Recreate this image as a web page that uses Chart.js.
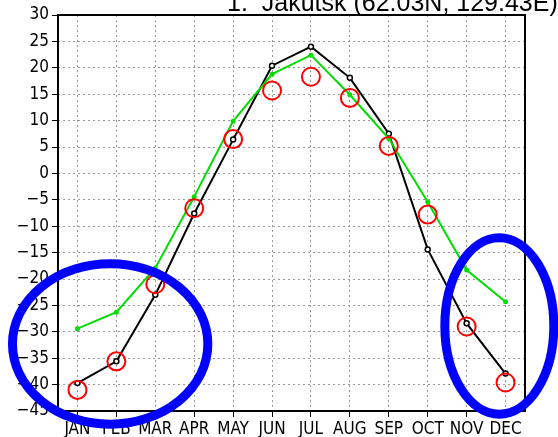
<!DOCTYPE html>
<html>
<head>
<meta charset="utf-8">
<script src="https://cdn.jsdelivr.net/npm/chart.js@4/dist/chart.umd.min.js"></script>
<style>
  html, body { margin: 0; padding: 0; background: #fff; }
  canvas { display: block; }
</style>
</head>
<body>
<canvas id="c" width="558" height="437"></canvas>
<script>
// Monthly mean temperature, Jakutsk
const titleText = '1.  Jakutsk (62.03N, 129.43E)';
const months = ['JAN', 'FEB', 'MAR', 'APR', 'MAY', 'JUN', 'JUL', 'AUG', 'SEP', 'OCT', 'NOV', 'DEC'];
const yTicks = [-45, -40, -35, -30, -25, -20, -15, -10, -5, 0, 5, 10, 15, 20, 25, 30];

const tempBlack = [-39.7, -35.6, -23.0, -7.6, 6.4, 20.4, 24.0, 18.1, 7.5, -14.4, -28.4, -37.9];
const tempGreen = [-29.4, -26.3, -17.9, -4.4, 9.9, 18.8, 22.4, 14.9, 6.6, -5.4, -18.3, -24.3];
const tempRed   = [-41.0, -35.6, -21.0, -6.6, 6.5, 15.7, 18.3, 14.3, 5.2, -7.8, -29.0, -39.6];

// Highlight rings: centre (month index, value) and radii (months, degrees)
const ringCentreX = [0.84, 10.84];
const ringCentreY = [-32.3, -28.9];
const ringRadiusX = [2.51, 1.4];
const ringRadiusY = [15.2, 16.7];

const tickFont = { family: "'Liberation Sans Narrow', 'DejaVu Sans Condensed', sans-serif", size: 17 };

const frameAndDecor = {
  id: 'frameAndDecor',
  afterDraw(chart) {
    const { ctx, chartArea: a, scales: { x, y } } = chart;
    ctx.save();
    // plot frame
    ctx.strokeStyle = '#000';
    ctx.lineWidth = 2;
    ctx.strokeRect(a.left, a.top, a.right - a.left, a.bottom - a.top);
    // title (clipped by the top edge of the canvas)
    ctx.fillStyle = '#000';
    ctx.font = "25px 'Liberation Sans', Arial, sans-serif";
    ctx.textAlign = 'left';
    ctx.textBaseline = 'alphabetic';
    ctx.fillText(titleText, 227, 11);
    // blue highlight rings
    ctx.strokeStyle = '#0000ff';
    ctx.lineWidth = 9;
    for (let i = 0; i < ringCentreX.length; i++) {
      const cx = x.getPixelForValue(ringCentreX[i]);
      const cy = y.getPixelForValue(ringCentreY[i]);
      const rx = Math.abs(x.getPixelForValue(ringCentreX[i] + ringRadiusX[i]) - cx);
      const ry = Math.abs(y.getPixelForValue(ringCentreY[i] + ringRadiusY[i]) - cy);
      ctx.beginPath();
      ctx.ellipse(cx, cy, rx, ry, 0, 0, Math.PI * 2);
      ctx.stroke();
    }
    ctx.restore();
  }
};

new Chart(document.getElementById('c'), {
  type: 'line',
  data: {
    labels: months,
    datasets: [
      {
        data: tempBlack,
        borderColor: '#000',
        borderWidth: 2,
        pointRadius: 2.5,
        pointBorderWidth: 1.5,
        pointBackgroundColor: '#fff',
        pointBorderColor: '#000',
        tension: 0,
        order: 3
      },
      {
        data: tempGreen,
        borderColor: '#00dd00',
        borderWidth: 2,
        pointRadius: 2.5,
        pointBorderWidth: 0,
        pointBackgroundColor: '#00dd00',
        tension: 0,
        order: 2
      },
      {
        data: tempRed,
        showLine: false,
        pointRadius: 9,
        pointBorderWidth: 2,
        pointBorderColor: '#ff0000',
        pointBackgroundColor: 'rgba(0,0,0,0)',
        order: 1
      }
    ]
  },
  options: {
    responsive: false,
    animation: false,
    devicePixelRatio: 1,
    layout: { padding: { top: 15, right: 33, bottom: 0, left: 0 } },
    plugins: { legend: { display: false }, title: { display: false }, tooltip: { enabled: false } },
    scales: {
      x: {
        type: 'category',
        offset: true,
        afterFit(s) { s.height = 26; },
        grid: {
          offset: false,
          color: '#999',
          lineWidth: 1,
          drawTicks: true,
          tickLength: 6,
          tickColor: '#000',
          tickWidth: 1
        },
        border: { display: false, dash: [2, 3] },
        ticks: { color: '#000', font: tickFont, padding: 2, maxRotation: 0, autoSkip: false }
      },
      y: {
        min: -45,
        max: 30,
        afterFit(s) { s.width = 58; },
        afterBuildTicks(s) { s.ticks = yTicks.map(v => ({ value: v })); },
        grid: {
          color: '#999',
          lineWidth: 1,
          drawTicks: true,
          tickLength: 6,
          tickColor: '#000',
          tickWidth: 1
        },
        border: { display: false, dash: [2, 3] },
        ticks: {
          color: '#000',
          font: tickFont,
          padding: 3,
          callback: v => String(v).replace('-', '\u2212')
        }
      }
    }
  },
  plugins: [frameAndDecor]
});
</script>
</body>
</html>
